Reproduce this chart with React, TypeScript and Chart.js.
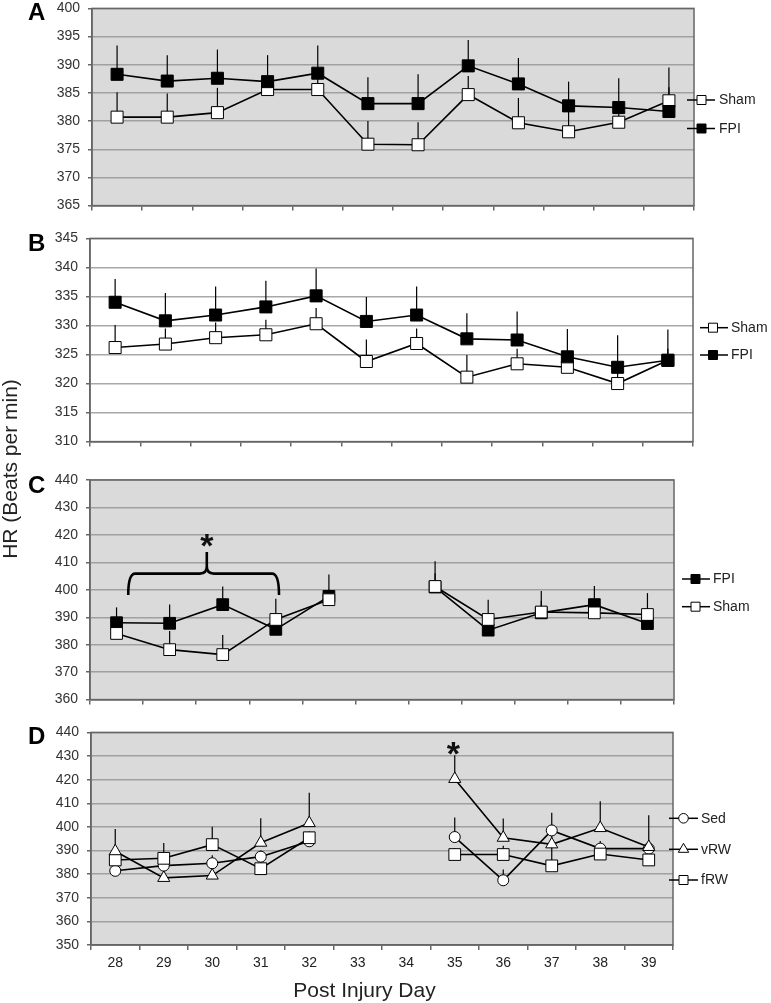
import { useEffect, useRef } from 'react';
import { Chart, registerables } from 'chart.js';

Chart.register(...registerables);

const FONT = "'Liberation Sans', Arial, Helvetica, sans-serif";

// ---------------- Data ----------------
const days = ['28', '29', '30', '31', '32', '33', '34', '35', '36', '37', '38', '39'];
const daysC = ['28', '29', '30', '31', '32', '', '35', '36', '37', '38', '39'];

// Panel A
const ticksA = [365, 370, 375, 380, 385, 390, 395, 400];
const aFpi = [388.3, 387.1, 387.6, 387.0, 388.5, 383.1, 383.1, 389.8, 386.6, 382.7, 382.4, 381.7];
const aFpiErr = [393.4, 391.7, 392.7, 391.7, 393.4, 387.8, 388.3, 394.4, 391.2, 387.0, 387.6, 389.5];
const aSham = [380.7, 380.7, 381.5, 385.6, 385.6, 375.9, 375.8, 384.7, 379.7, 378.1, 379.8, 383.6];
const aShamErr = [385.1, 384.9, 385.9, 387.5, 387.5, 380.0, 379.8, 388.0, 384.1, 382.0, 382.0, 386.0];

// Panel B
const ticksB = [310, 315, 320, 325, 330, 335, 340, 345];
const bFpi = [334.0, 330.8, 331.8, 333.2, 335.1, 330.7, 331.8, 327.7, 327.5, 324.6, 322.8, 324.0];
const bFpiErr = [338.0, 335.6, 336.7, 337.7, 339.8, 334.9, 336.7, 332.1, 332.4, 329.4, 328.3, 329.3];
const bSham = [326.2, 326.8, 327.9, 328.4, 330.3, 323.8, 326.9, 321.1, 323.4, 322.8, 320.0, 324.0];
const bShamErr = [330.1, 329.5, 330.5, 331.0, 333.0, 327.6, 329.5, 324.9, 326.0, 325.0, 323.0, 326.0];

// Panel C
const ticksC = [360, 370, 380, 390, 400, 410, 420, 430, 440];
const cFpi = [388.0, 387.8, 394.6, 385.6, 397.6, null, 401.0, 385.3, 391.6, 394.6, 387.7];
const cFpiErr = [393.6, 394.6, 401.2, 390.0, 405.6, null, 406.0, 391.0, 396.0, 401.4, 392.0];
const cSham = [384.1, 378.2, 376.4, 389.2, 396.4, null, 401.2, 389.2, 391.9, 391.6, 391.0];
const cShamErr = [388.0, 385.0, 383.5, 396.7, 400.0, null, 410.4, 396.4, 399.6, 396.0, 398.8];

// Panel D
const ticksD = [350, 360, 370, 380, 390, 400, 410, 420, 430, 440];
const dSed = [381.4, 383.6, 384.6, 387.4, 393.9, null, null, 395.7, 377.4, 398.5, 390.8, 390.8];
const dSedErr = [384.0, 386.0, 388.0, 390.0, 396.0, null, null, 404.0, 382.0, 406.0, 394.0, 394.0];
const dVrw = [389.7, 378.4, 379.4, 393.3, 401.6, null, null, 420.3, 395.4, 392.6, 399.5, 391.5];
const dVrwErr = [399.1, 383.0, 383.0, 403.7, 414.4, null, null, 430.3, 403.6, 397.0, 410.9, 404.9];
const dFrw = [386.0, 386.7, 392.5, 382.3, 395.4, null, null, 388.3, 388.3, 383.5, 388.5, 386.0];
const dFrwErr = [389.0, 393.2, 400.1, 386.0, 398.0, null, null, 391.0, 392.0, 392.0, 391.0, 389.0];

// Significance marks (category index / value units)
const cBracket = { from: 0.22, to: 3.06, mid: 1.7, y: 405.9, yEnd: 398.1, yPeak: 413.8 };
const cStar = { x: 1.7, y: 417.8 };
const dStar = { x: 6.97, y: 433.1 };

// ---------------- Types ----------------
type Style = 'rect' | 'circle' | 'triangle';
type Series = { label: string; data: (number | null)[]; err: (number | null)[]; style: Style; fill: string; radius: number };
type Annot =
  | { kind: 'bracket'; from: number; to: number; mid: number; y: number; yEnd: number; yPeak: number }
  | { kind: 'star'; x: number; y: number };
type Panel = {
  id: string;
  labels: string[];
  ticks: number[];
  bg: string;
  grid: string;
  canvasTop: number;
  canvasH: number;
  plotLeft: number;
  plotRight: number;
  plotTop: number;
  plotBottom: number;
  series: Series[];
  legend: { items: { label: string; style: Style; fill: string }[]; ys: number[]; x1: number; x2: number; xm: number; xt: number };
  showXLabels: boolean;
  annots: Annot[];
};

const W = 771;
const FRAME = '#666666';

const panels: Panel[] = [
  {
    id: 'A', labels: days, ticks: ticksA, bg: '#dadada', grid: '#a0a0a0',
    canvasTop: -8, canvasH: 230, plotLeft: 92, plotRight: 694, plotTop: 4, plotBottom: 211,
    series: [
      { label: 'FPI', data: aFpi, err: aFpiErr, style: 'rect', fill: '#000000', radius: 8.5 },
      { label: 'Sham', data: aSham, err: aShamErr, style: 'rect', fill: '#ffffff', radius: 8.5 },
    ],
    legend: {
      items: [{ label: 'Sham', style: 'rect', fill: '#ffffff' }, { label: 'FPI', style: 'rect', fill: '#000000' }],
      ys: [100, 128.5], x1: 687, x2: 715, xm: 701.5, xt: 719,
    },
    showXLabels: false, annots: [],
  },
  {
    id: 'B', labels: days, ticks: ticksB, bg: '#ffffff', grid: '#a8a8a8',
    canvasTop: 222, canvasH: 236, plotLeft: 90, plotRight: 693, plotTop: 236, plotBottom: 444,
    series: [
      { label: 'FPI', data: bFpi, err: bFpiErr, style: 'rect', fill: '#000000', radius: 8.5 },
      { label: 'Sham', data: bSham, err: bShamErr, style: 'rect', fill: '#ffffff', radius: 8.5 },
    ],
    legend: {
      items: [{ label: 'Sham', style: 'rect', fill: '#ffffff' }, { label: 'FPI', style: 'rect', fill: '#000000' }],
      ys: [327.7, 355], x1: 700, x2: 728, xm: 713, xt: 731,
    },
    showXLabels: false, annots: [],
  },
  {
    id: 'C', labels: daysC, ticks: ticksC, bg: '#dadada', grid: '#a0a0a0',
    canvasTop: 458, canvasH: 258, plotLeft: 90, plotRight: 674, plotTop: 480, plotBottom: 703,
    series: [
      { label: 'Sham', data: cSham, err: cShamErr, style: 'rect', fill: '#ffffff', radius: 8.3 },
      { label: 'FPI', data: cFpi, err: cFpiErr, style: 'rect', fill: '#000000', radius: 8.3 },
    ],
    legend: {
      items: [{ label: 'FPI', style: 'rect', fill: '#000000' }, { label: 'Sham', style: 'rect', fill: '#ffffff' }],
      ys: [579, 606.7], x1: 682, x2: 710, xm: 695.5, xt: 713,
    },
    showXLabels: false,
    annots: [{ kind: 'bracket', ...cBracket }, { kind: 'star', ...cStar }],
  },
  {
    id: 'D', labels: days, ticks: ticksD, bg: '#dadada', grid: '#a0a0a0',
    canvasTop: 716, canvasH: 287, plotLeft: 91, plotRight: 673, plotTop: 728, plotBottom: 945,
    series: [
      { label: 'vRW', data: dVrw, err: dVrwErr, style: 'triangle', fill: '#ffffff', radius: 7 },
      { label: 'fRW', data: dFrw, err: dFrwErr, style: 'rect', fill: '#ffffff', radius: 8.3 },
      { label: 'Sed', data: dSed, err: dSedErr, style: 'circle', fill: '#ffffff', radius: 5.5 },
    ],
    legend: {
      items: [
        { label: 'Sed', style: 'circle', fill: '#ffffff' },
        { label: 'vRW', style: 'triangle', fill: '#ffffff' },
        { label: 'fRW', style: 'rect', fill: '#ffffff' },
      ],
      ys: [818.3, 849.3, 880], x1: 669, x2: 698, xm: 683.5, xt: 701,
    },
    showXLabels: true,
    annots: [{ kind: 'star', ...dStar }],
  },
];

function drawMarker(ctx: CanvasRenderingContext2D, style: Style, x: number, y: number, fill: string) {
  ctx.beginPath();
  if (style === 'rect') {
    const s = 4.5;
    ctx.rect(x - s, y - s, 2 * s, 2 * s);
  } else if (style === 'circle') {
    ctx.arc(x, y, 4.8, 0, Math.PI * 2);
  } else {
    const r = 6;
    ctx.moveTo(x, y - r);
    ctx.lineTo(x + r * 0.866, y + r / 2);
    ctx.lineTo(x - r * 0.866, y + r / 2);
    ctx.closePath();
  }
  ctx.fillStyle = fill;
  ctx.fill();
  ctx.strokeStyle = '#000';
  ctx.lineWidth = 1;
  ctx.stroke();
}

function makePlugin(p: Panel) {
  return {
    id: 'decor' + p.id,
    beforeDraw(chart: any) {
      const { ctx, chartArea: a } = chart;
      ctx.save();
      ctx.fillStyle = p.bg;
      ctx.fillRect(a.left, a.top, a.right - a.left, a.bottom - a.top);
      ctx.restore();
    },
    beforeDatasetsDraw(chart: any) {
      const { ctx, chartArea: a } = chart;
      const ys = chart.scales.y;
      ctx.save();
      ctx.strokeStyle = FRAME;
      ctx.lineWidth = 1.5;
      ctx.strokeRect(a.left, a.top, a.right - a.left, a.bottom - a.top);
      ctx.strokeStyle = '#000';
      ctx.lineWidth = 1.2;
      p.series.forEach((s, di) => {
        const meta = chart.getDatasetMeta(di);
        s.err.forEach((e, i) => {
          const v = s.data[i];
          if (e == null || v == null) return;
          const pt = meta.data[i];
          if (!pt) return;
          ctx.beginPath();
          ctx.moveTo(pt.x, ys.getPixelForValue(v));
          ctx.lineTo(pt.x, ys.getPixelForValue(e));
          ctx.stroke();
        });
      });
      ctx.restore();
    },
    afterDatasetsDraw(chart: any) {
      const { ctx } = chart;
      const xs = chart.scales.x;
      const ys = chart.scales.y;
      ctx.save();
      p.annots.forEach((an) => {
        if (an.kind === 'bracket') {
          const x1 = xs.getPixelForValue(an.from);
          const x2 = xs.getPixelForValue(an.to);
          const xm = xs.getPixelForValue(an.mid);
          const yl = ys.getPixelForValue(an.y);
          const ye = ys.getPixelForValue(an.yEnd);
          const yp = ys.getPixelForValue(an.yPeak);
          const r = 7;
          ctx.strokeStyle = '#000';
          ctx.lineWidth = 2.6;
          ctx.lineJoin = 'round';
          ctx.beginPath();
          ctx.moveTo(x1, ye);
          ctx.quadraticCurveTo(x1, yl, x1 + r, yl);
          ctx.lineTo(xm - r, yl);
          ctx.quadraticCurveTo(xm, yl, xm, yl - r);
          ctx.lineTo(xm, yp);
          ctx.moveTo(x2, ye);
          ctx.quadraticCurveTo(x2, yl, x2 - r, yl);
          ctx.lineTo(xm + r, yl);
          ctx.quadraticCurveTo(xm, yl, xm, yl - r);
          ctx.stroke();
        } else {
          const x = xs.getPixelForValue(an.x);
          const y = ys.getPixelForValue(an.y);
          ctx.font = `bold 34px ${FONT}`;
          ctx.fillStyle = '#111';
          ctx.textAlign = 'center';
          ctx.textBaseline = 'alphabetic';
          const m = ctx.measureText('*');
          const base = y + (m.actualBoundingBoxAscent - m.actualBoundingBoxDescent) / 2;
          ctx.fillText('*', x, base);
        }
      });
      ctx.restore();
    },
    afterDraw(chart: any) {
      const { ctx } = chart;
      const L = p.legend;
      ctx.save();
      L.items.forEach((it, i) => {
        const y = L.ys[i] - p.canvasTop;
        ctx.strokeStyle = '#000';
        ctx.lineWidth = 1.5;
        ctx.beginPath();
        ctx.moveTo(L.x1, y);
        ctx.lineTo(L.x2, y);
        ctx.stroke();
        drawMarker(ctx, it.style, L.xm, y, it.fill);
        ctx.font = `14px ${FONT}`;
        ctx.fillStyle = '#222';
        ctx.textAlign = 'left';
        ctx.textBaseline = 'middle';
        ctx.fillText(it.label, L.xt, y + 0.5);
      });
      ctx.restore();
    },
  };
}

function buildConfig(p: Panel): any {
  const padTop = p.plotTop - p.canvasTop;
  const axisH = p.canvasTop + p.canvasH - p.plotBottom;
  const t = p.ticks;
  return {
    type: 'line',
    data: {
      labels: p.labels,
      datasets: p.series.map((s) => ({
        label: s.label,
        data: s.data,
        borderColor: '#000',
        borderWidth: 1.6,
        pointStyle: s.style,
        pointRadius: s.radius,
        pointBackgroundColor: s.fill,
        pointBorderColor: '#000',
        pointBorderWidth: 1,
        tension: 0,
        spanGaps: false,
        fill: false,
      })),
    },
    options: {
      animation: false,
      responsive: false,
      devicePixelRatio: 1,
      events: [],
      layout: { padding: { top: padTop, right: W - p.plotRight, left: 0, bottom: 0 } },
      plugins: { legend: { display: false }, tooltip: { enabled: false }, title: { display: false } },
      scales: {
        x: {
          type: 'category',
          offset: true,
          grid: { offset: true, drawOnChartArea: false, drawTicks: true, tickLength: 5, color: FRAME, lineWidth: 1.5 },
          border: { display: true, color: FRAME, width: 1.5 },
          ticks: {
            display: p.showXLabels,
            color: '#222',
            font: { family: FONT, size: 14 },
            padding: 5,
            autoSkip: false,
            maxRotation: 0,
          },
          afterFit: (s: any) => {
            s.height = axisH;
          },
        },
        y: {
          min: t[0],
          max: t[t.length - 1],
          ticks: {
            stepSize: t[1] - t[0],
            color: '#333',
            font: { family: FONT, size: 14 },
            padding: 8,
          },
          grid: { color: p.grid, lineWidth: 1.5, drawTicks: true, tickLength: 4, tickColor: FRAME, tickWidth: 1.5 },
          border: { display: true, color: FRAME, width: 1.5 },
          afterFit: (s: any) => {
            s.width = p.plotLeft;
          },
        },
      },
    },
    plugins: [makePlugin(p)],
  };
}

function PanelChart({ panel }: { panel: Panel }) {
  const ref = useRef<HTMLCanvasElement>(null);
  useEffect(() => {
    if (!ref.current) return;
    const chart = new Chart(ref.current, buildConfig(panel));
    return () => chart.destroy();
  }, [panel]);
  return (
    <canvas
      ref={ref}
      width={W}
      height={panel.canvasH}
      style={{ position: 'absolute', left: 0, top: panel.canvasTop, width: W, height: panel.canvasH }}
    />
  );
}

const letterTops = [0, 231, 473, 724];

export default function App() {
  return (
    <div
      style={{
        position: 'fixed',
        left: 0,
        top: 0,
        width: W,
        height: 1003,
        background: '#ffffff',
        overflow: 'hidden',
        fontFamily: FONT,
        color: '#111',
      }}
    >
      {panels.map((p) => (
        <PanelChart key={p.id} panel={p} />
      ))}
      {panels.map((p, i) => (
        <div
          key={'L' + p.id}
          style={{ position: 'absolute', left: 28, top: letterTops[i], fontSize: 24, lineHeight: '24px', fontWeight: 'bold', color: '#000' }}
        >
          {p.id}
        </div>
      ))}
      <div
        style={{
          position: 'absolute',
          left: 10 - 150,
          top: 469 - 11,
          width: 300,
          height: 22,
          lineHeight: '22px',
          fontSize: 21,
          textAlign: 'center',
          transform: 'rotate(-90deg)',
          transformOrigin: '50% 50%',
          color: '#222',
          whiteSpace: 'nowrap',
        }}
      >
        HR (Beats per min)
      </div>
      <div
        style={{
          position: 'absolute',
          left: 364.5 - 150,
          top: 979,
          width: 300,
          height: 22,
          lineHeight: '22px',
          fontSize: 21,
          textAlign: 'center',
          color: '#222',
          whiteSpace: 'nowrap',
        }}
      >
        Post Injury Day
      </div>
    </div>
  );
}
